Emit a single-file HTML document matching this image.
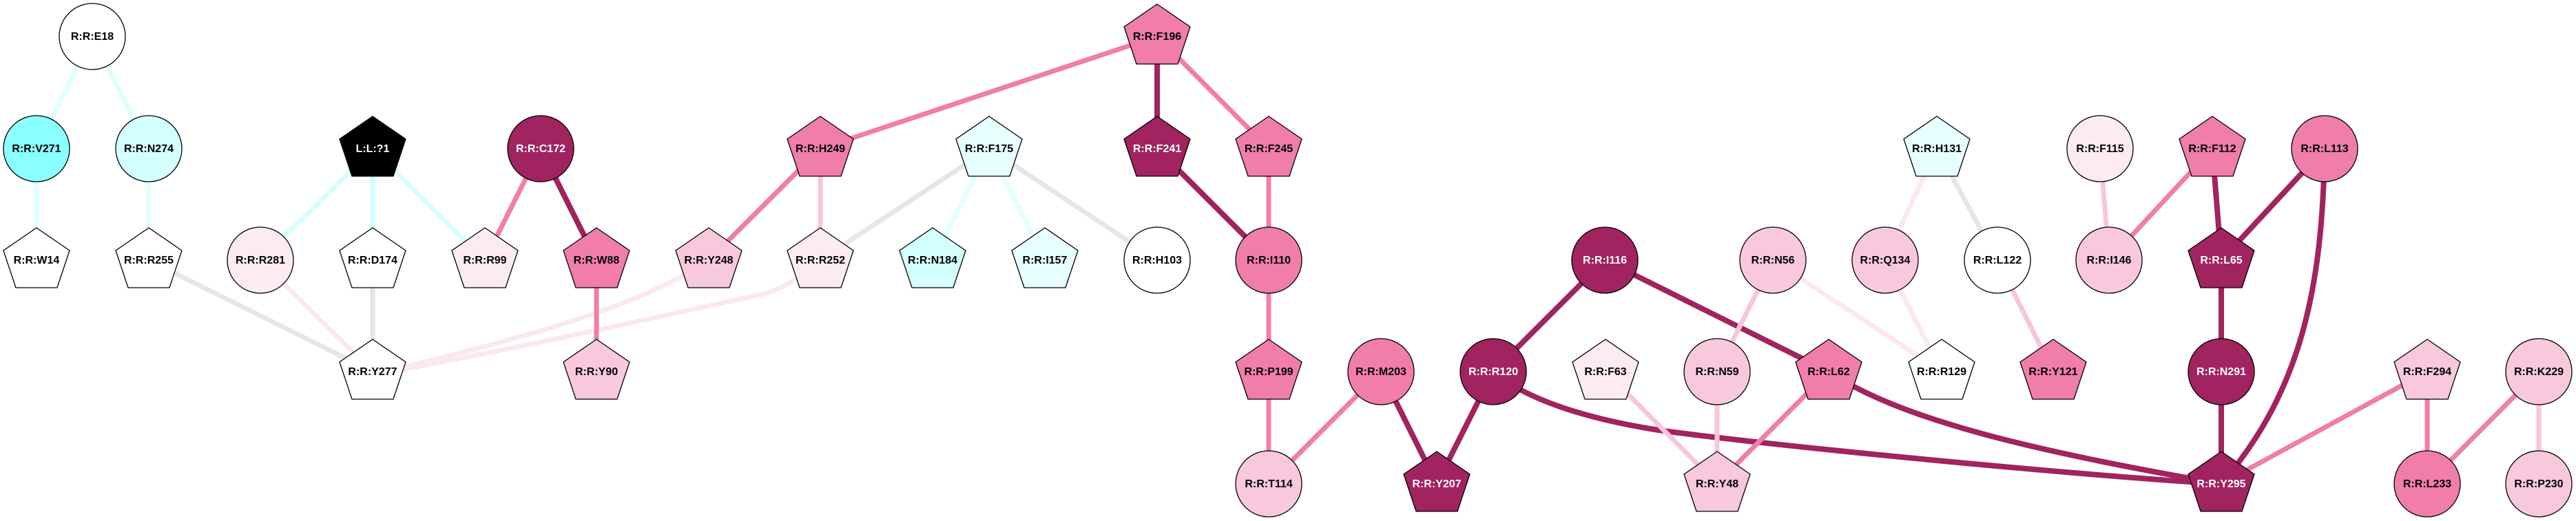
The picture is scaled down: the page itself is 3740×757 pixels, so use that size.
<!DOCTYPE html>
<html><head><meta charset="utf-8"><style>
html,body{margin:0;padding:0;background:#fff;}
svg{display:block;}
text{font-family:"Liberation Sans",Arial,sans-serif;font-weight:bold;font-size:16px;text-anchor:middle;}
</style></head><body>
<svg width="3740" height="757" viewBox="0 0 3740 757" xmlns="http://www.w3.org/2000/svg">
<rect width="3740" height="757" fill="#fff"/>
<g fill="none" stroke-width="7">
<!-- cyan -->
<g stroke="#e0ffff">
<line x1="134" y1="53" x2="53" y2="216"/>
<line x1="134" y1="53" x2="216" y2="216"/>
<line x1="53" y1="216" x2="53" y2="378"/>
<line x1="216" y1="216" x2="216" y2="378"/>
</g>
<g stroke="#d4ffff">
<line x1="541" y1="216" x2="378" y2="378"/>
<line x1="541" y1="216" x2="541" y2="378"/>
<line x1="541" y1="216" x2="704" y2="378"/>
</g>
<g stroke="#e4ffff">
<line x1="1436" y1="216" x2="1354" y2="378"/>
<line x1="1436" y1="216" x2="1517" y2="378"/>
</g>
<!-- gray -->
<g stroke="#e6e6e6">
<line x1="216" y1="378" x2="541" y2="540"/>
<line x1="541" y1="378" x2="541" y2="540"/>
<line x1="1191" y1="378" x2="1436" y2="216"/>
<line x1="1436" y1="216" x2="1680" y2="378"/>
<line x1="2812" y1="216" x2="2900" y2="378"/>
</g>
<!-- very light pink -->
<g stroke="#fbe8f1">
<line x1="378" y1="378" x2="541" y2="540"/>
<path d="M541,545 C760,490 920,450 1029,378"/>
<path d="M541,545 C800,497 1000,450 1105,428 Q1140,420 1175,390"/>
<line x1="2574" y1="378" x2="2819" y2="540"/>
<line x1="2812" y1="216" x2="2737" y2="378"/>
<line x1="2737" y1="378" x2="2819" y2="540"/>
</g>
<!-- dark -->
<g stroke="#a12360" stroke-width="8">
<line x1="785" y1="216" x2="866" y2="378"/>
<line x1="1680" y1="53" x2="1680" y2="216"/>
<line x1="1680" y1="216" x2="1842" y2="378"/>
<line x1="2005" y1="540" x2="2086" y2="703"/>
<line x1="2168" y1="540" x2="2086" y2="703"/>
<line x1="2330" y1="378" x2="2168" y2="540"/>
<line x1="2330" y1="378" x2="2655" y2="540"/>
<path d="M2655,540 C2760,610 2950,655 3225,703"/>
<path d="M2168,540 C2215,580 2300,607 2396,623 C2500,640 3000,690 3225,703"/>
<line x1="3212" y1="216" x2="3225" y2="378"/>
<line x1="3375" y1="216" x2="3225" y2="378"/>
<path d="M3375,216 C3372,420 3340,570 3225,703"/>
<line x1="3225" y1="378" x2="3225" y2="540"/>
<line x1="3225" y1="540" x2="3225" y2="703"/>
</g>
<!-- light pink -->
<g stroke="#f8c6dc">
<line x1="1191" y1="216" x2="1191" y2="378"/>
<line x1="2331" y1="540" x2="2493" y2="703"/>
<line x1="2493" y1="540" x2="2493" y2="703"/>
<line x1="2574" y1="378" x2="2493" y2="540"/>
<line x1="2900" y1="378" x2="2981" y2="540"/>
<line x1="3049" y1="216" x2="3062" y2="378"/>
<line x1="3686" y1="540" x2="3686" y2="703"/>
</g>
<!-- medium pink -->
<g stroke="#f07daa">
<line x1="785" y1="216" x2="704" y2="378"/>
<line x1="866" y1="378" x2="866" y2="540"/>
<line x1="1191" y1="216" x2="1029" y2="378"/>
<line x1="1191" y1="216" x2="1680" y2="53"/>
<line x1="1680" y1="53" x2="1842" y2="216"/>
<line x1="1842" y1="216" x2="1842" y2="378"/>
<line x1="1842" y1="378" x2="1842" y2="540"/>
<line x1="1842" y1="540" x2="1842" y2="703"/>
<line x1="2005" y1="540" x2="1842" y2="703"/>
<line x1="2655" y1="540" x2="2493" y2="703"/>
<line x1="3212" y1="216" x2="3062" y2="378"/>
<line x1="3524" y1="540" x2="3225" y2="703"/>
<line x1="3524" y1="540" x2="3524" y2="703"/>
<line x1="3686" y1="540" x2="3524" y2="703"/>
</g>
</g>

<!-- nodes -->
<g stroke="#000" stroke-width="1.3">
<circle cx="134" cy="53" r="48" fill="#ffffff"/>
<circle cx="53" cy="216" r="48" fill="#8affff"/>
<circle cx="216" cy="216" r="48" fill="#d4ffff"/>
<polygon transform="translate(53,378)" points="0,-47 48,-14 30,40 -30,40 -48,-14" fill="#ffffff"/>
<polygon transform="translate(216,378)" points="0,-47 48,-14 30,40 -30,40 -48,-14" fill="#ffffff"/>
<polygon transform="translate(541,216)" points="0,-47 48,-14 30,40 -30,40 -48,-14" fill="#000000"/>
<circle cx="378" cy="378" r="48" fill="#fcebf3"/>
<polygon transform="translate(541,378)" points="0,-47 48,-14 30,40 -30,40 -48,-14" fill="#ffffff"/>
<polygon transform="translate(704,378)" points="0,-47 48,-14 30,40 -30,40 -48,-14" fill="#fcebf3"/>
<polygon transform="translate(541,540)" points="0,-47 48,-14 30,40 -30,40 -48,-14" fill="#ffffff"/>
<circle cx="785" cy="216" r="48" fill="#a12360"/>
<polygon transform="translate(866,378)" points="0,-47 48,-14 30,40 -30,40 -48,-14" fill="#f07daa"/>
<polygon transform="translate(866,540)" points="0,-47 48,-14 30,40 -30,40 -48,-14" fill="#f8c8dc"/>
<polygon transform="translate(1191,216)" points="0,-47 48,-14 30,40 -30,40 -48,-14" fill="#f07daa"/>
<polygon transform="translate(1029,378)" points="0,-47 48,-14 30,40 -30,40 -48,-14" fill="#f8c8dc"/>
<polygon transform="translate(1191,378)" points="0,-47 48,-14 30,40 -30,40 -48,-14" fill="#fcebf3"/>
<polygon transform="translate(1436,216)" points="0,-47 48,-14 30,40 -30,40 -48,-14" fill="#e8ffff"/>
<polygon transform="translate(1354,378)" points="0,-47 48,-14 30,40 -30,40 -48,-14" fill="#d4ffff"/>
<polygon transform="translate(1517,378)" points="0,-47 48,-14 30,40 -30,40 -48,-14" fill="#e8ffff"/>
<circle cx="1680" cy="378" r="48" fill="#ffffff"/>
<polygon transform="translate(1680,53)" points="0,-47 48,-14 30,40 -30,40 -48,-14" fill="#f07daa"/>
<polygon transform="translate(1680,216)" points="0,-47 48,-14 30,40 -30,40 -48,-14" fill="#a12360"/>
<polygon transform="translate(1842,216)" points="0,-47 48,-14 30,40 -30,40 -48,-14" fill="#f07daa"/>
<circle cx="1842" cy="378" r="48" fill="#f07daa"/>
<polygon transform="translate(1842,540)" points="0,-47 48,-14 30,40 -30,40 -48,-14" fill="#f07daa"/>
<circle cx="1842" cy="703" r="48" fill="#f8c8dc"/>
<circle cx="2005" cy="540" r="48" fill="#f07daa"/>
<circle cx="2168" cy="540" r="48" fill="#a12360"/>
<polygon transform="translate(2086,703)" points="0,-47 48,-14 30,40 -30,40 -48,-14" fill="#a12360"/>
<circle cx="2330" cy="378" r="48" fill="#a12360"/>
<polygon transform="translate(2331,540)" points="0,-47 48,-14 30,40 -30,40 -48,-14" fill="#fcebf3"/>
<circle cx="2574" cy="378" r="48" fill="#f8c8dc"/>
<circle cx="2493" cy="540" r="48" fill="#f8c8dc"/>
<polygon transform="translate(2655,540)" points="0,-47 48,-14 30,40 -30,40 -48,-14" fill="#f07daa"/>
<polygon transform="translate(2493,703)" points="0,-47 48,-14 30,40 -30,40 -48,-14" fill="#f8c8dc"/>
<polygon transform="translate(2812,216)" points="0,-47 48,-14 30,40 -30,40 -48,-14" fill="#e8ffff"/>
<circle cx="2737" cy="378" r="48" fill="#f8c8dc"/>
<circle cx="2900" cy="378" r="48" fill="#ffffff"/>
<polygon transform="translate(2819,540)" points="0,-47 48,-14 30,40 -30,40 -48,-14" fill="#ffffff"/>
<polygon transform="translate(2981,540)" points="0,-47 48,-14 30,40 -30,40 -48,-14" fill="#f07daa"/>
<circle cx="3049" cy="216" r="48" fill="#fcebf3"/>
<polygon transform="translate(3212,216)" points="0,-47 48,-14 30,40 -30,40 -48,-14" fill="#f07daa"/>
<circle cx="3062" cy="378" r="48" fill="#f8c8dc"/>
<circle cx="3375" cy="216" r="48" fill="#f07daa"/>
<polygon transform="translate(3225,378)" points="0,-47 48,-14 30,40 -30,40 -48,-14" fill="#a12360"/>
<circle cx="3225" cy="540" r="48" fill="#a12360"/>
<polygon transform="translate(3225,703)" points="0,-47 48,-14 30,40 -30,40 -48,-14" fill="#a12360"/>
<polygon transform="translate(3524,540)" points="0,-47 48,-14 30,40 -30,40 -48,-14" fill="#f8c8dc"/>
<circle cx="3686" cy="540" r="48" fill="#f8c8dc"/>
<circle cx="3524" cy="703" r="48" fill="#f07daa"/>
<circle cx="3686" cy="703" r="48" fill="#f8c8dc"/>
</g>

<!-- labels -->
<g fill="#000">
<text x="134" y="58">R:R:E18</text>
<text x="53" y="221">R:R:V271</text>
<text x="216" y="221">R:R:N274</text>
<text x="53" y="383">R:R:W14</text>
<text x="216" y="383">R:R:R255</text>
<text x="378" y="383">R:R:R281</text>
<text x="541" y="383">R:R:D174</text>
<text x="704" y="383">R:R:R99</text>
<text x="541" y="545">R:R:Y277</text>
<text x="866" y="383">R:R:W88</text>
<text x="866" y="545">R:R:Y90</text>
<text x="1191" y="221">R:R:H249</text>
<text x="1029" y="383">R:R:Y248</text>
<text x="1191" y="383">R:R:R252</text>
<text x="1436" y="221">R:R:F175</text>
<text x="1354" y="383">R:R:N184</text>
<text x="1517" y="383">R:R:I157</text>
<text x="1680" y="383">R:R:H103</text>
<text x="1680" y="58">R:R:F196</text>
<text x="1842" y="221">R:R:F245</text>
<text x="1842" y="383">R:R:I110</text>
<text x="1842" y="545">R:R:P199</text>
<text x="1842" y="708">R:R:T114</text>
<text x="2005" y="545">R:R:M203</text>
<text x="2331" y="545">R:R:F63</text>
<text x="2574" y="383">R:R:N56</text>
<text x="2493" y="545">R:R:N59</text>
<text x="2655" y="545">R:R:L62</text>
<text x="2493" y="708">R:R:Y48</text>
<text x="2812" y="221">R:R:H131</text>
<text x="2737" y="383">R:R:Q134</text>
<text x="2900" y="383">R:R:L122</text>
<text x="2819" y="545">R:R:R129</text>
<text x="2981" y="545">R:R:Y121</text>
<text x="3049" y="221">R:R:F115</text>
<text x="3212" y="221">R:R:F112</text>
<text x="3062" y="383">R:R:I146</text>
<text x="3375" y="221">R:R:L113</text>
<text x="3524" y="545">R:R:F294</text>
<text x="3686" y="545">R:R:K229</text>
<text x="3524" y="708">R:R:L233</text>
<text x="3686" y="708">R:R:P230</text>
</g>
<g fill="#fff">
<text x="541" y="221">L:L:?1</text>
<text x="785" y="221">R:R:C172</text>
<text x="1680" y="221">R:R:F241</text>
<text x="2168" y="545">R:R:R120</text>
<text x="2086" y="708">R:R:Y207</text>
<text x="2330" y="383">R:R:I116</text>
<text x="3225" y="383">R:R:L65</text>
<text x="3225" y="545">R:R:N291</text>
<text x="3225" y="708">R:R:Y295</text>
</g>
</svg>
</body></html>
